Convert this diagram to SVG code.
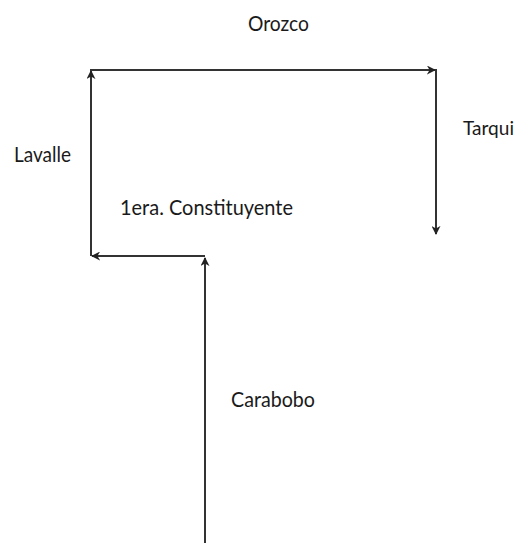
<svg xmlns="http://www.w3.org/2000/svg" width="520" height="543" viewBox="0 0 520 543">
<style>
.lbl{font-family:Lato,"Open Sans","Liberation Sans",sans-serif;font-size:22px;fill:#1a1a1a;}
.ln{stroke:#333;stroke-width:2;fill:none;marker-end:url(#ah);}
</style>
<defs>
<marker id="ah" viewBox="0 0 10 10" refX="9" refY="5" markerWidth="4.5" markerHeight="4.5" orient="auto" markerUnits="strokeWidth">
<path d="M0,0 L10,5 L0,10 L3,5 Z" fill="#222"/>
</marker>
</defs>
<rect width="520" height="543" fill="#fff"/>
<g id="connectors">
<line class="ln" x1="205" y1="543" x2="205" y2="258"/>
<line class="ln" x1="205" y1="256" x2="92" y2="256"/>
<line class="ln" x1="91" y1="256" x2="91" y2="71"/>
<line class="ln" x1="90" y1="70" x2="435" y2="70"/>
<line class="ln" x1="436" y1="69" x2="436" y2="234"/>
</g>
<g id="orozco"><text class="lbl" x="248" y="31" textLength="61" lengthAdjust="spacingAndGlyphs">Orozco</text></g>
<g id="lavalle"><text class="lbl" x="14" y="162" textLength="57" lengthAdjust="spacingAndGlyphs">Lavalle</text></g>
<g id="tarqui"><text class="lbl" x="463" y="135" style="font-size:20px" textLength="51" lengthAdjust="spacingAndGlyphs">Tarqui</text></g>
<g id="constituyente"><text class="lbl" x="120" y="215" textLength="173" lengthAdjust="spacingAndGlyphs">1era. Constituyente</text></g>
<g id="carabobo"><text class="lbl" x="231" y="407" textLength="84" lengthAdjust="spacingAndGlyphs">Carabobo</text></g>
</svg>
